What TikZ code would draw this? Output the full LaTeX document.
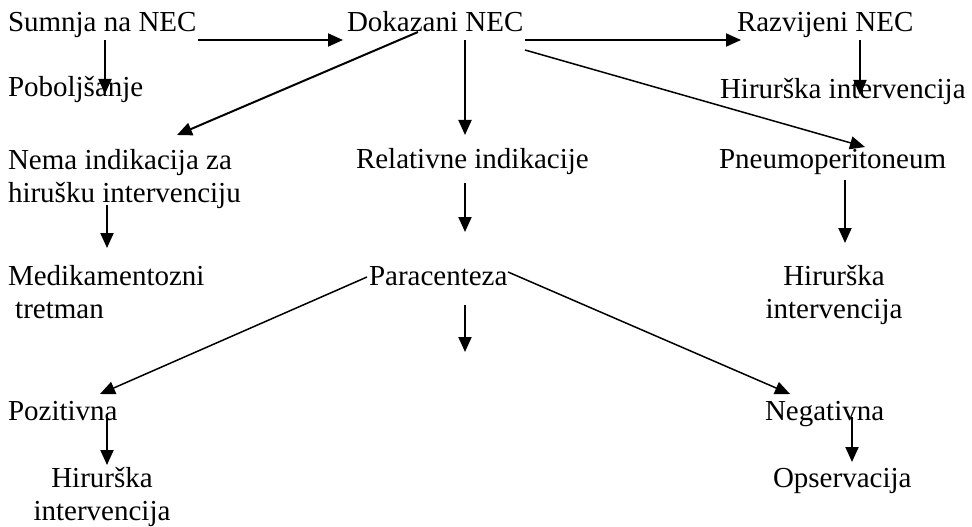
\documentclass[tikz,border=0pt]{standalone}
\usepackage{fontspec}
\setmainfont{Liberation Serif}
\usepackage{xcolor}
\definecolor{cText}{HTML}{000000}
\usetikzlibrary{positioning,arrows.meta,calc}
\tikzset{
  node-text/.style={inner sep=0pt,outer sep=0pt,text=cText,
    font=\fontsize{11.6}{13.4}\selectfont},
  arrow/.style={-{Triangle[length=6pt,width=5.2pt]},line width=0.8pt,draw=cText},
  arrow-thin/.style={arrow,line width=0.6pt},
}

\begin{document}
\begin{tikzpicture}[x=0.4pt,y=-0.4pt]
  \useasboundingbox (0,0) rectangle (972,526);
  % gornji red
  \node[node-text,anchor=base west] (sumnja) at (8,32) {Sumnja na NEC};
  \node[node-text,anchor=base west] (dokazani) at (347,32) {Dokazani NEC};
  \node[node-text,anchor=base west] (razvijeni) at (737,32) {Razvijeni NEC};
  \node[node-text,anchor=base west] (poboljsanje) at (8,97) {Poboljšanje};
  \node[node-text,anchor=base west] (hirurska-a) at (720,99) {Hirurška intervencija};
  % srednji red
  \node[node-text,anchor=north west,align=left] (nema) at (8,149)
    {Nema indikacija za\\hirušku intervenciju};
  \node[node-text,anchor=base west] (relativne) at (356,168) {Relativne indikacije};
  \node[node-text,anchor=base west] (pneumo) at (719,168) {Pneumoperitoneum};
  \node[node-text,anchor=north west,align=left] (medik) at (8,265)
    {Medikamentozni\\\hspace*{0.25em}tretman};
  \node[node-text,anchor=base west] (paracenteza) at (369,285) {Paracenteza};
  \node[node-text,anchor=north,align=center] (hirurska-b) at (834,265)
    {Hirurška\\intervencija};
  % donji red
  \node[node-text,anchor=base west] (pozitivna) at (8,420) {Pozitivna};
  \node[node-text,anchor=base west] (negativna) at (765,420) {Negativna};
  \node[node-text,anchor=north,align=center] (hirurska-c) at (102,467)
    {Hirurška\\intervencija};
  \node[node-text,anchor=base west] (opservacija) at (773,487) {Opservacija};
  \coordinate (rel-end) at (465,232);
  \coordinate (para-end) at (465,352);

  \draw[arrow] ($(sumnja.base east)+(2,8)$) -- ($(dokazani.base west)+(-4,8)$);
  \draw[arrow] ($(dokazani.base east)+(2,8)$) -- ($(razvijeni.base west)+(4,8)$);
  \draw[arrow] ($(sumnja.base west)+(97,8)$) -- ($(poboljsanje.base west)+(97,-3)$);
  \draw[arrow] ($(dokazani.base west)+(71,0)$) -- ($(nema.north west)+(169,-14)$);
  \draw[arrow] ($(dokazani.base west)+(118,8)$) -- ($(relativne.base west)+(109,-33)$);
  \draw[arrow-thin] ($(dokazani.base west)+(178,18)$) -- ($(pneumo.base west)+(146,-21)$);
  \draw[arrow] ($(razvijeni.base west)+(123,8)$) -- ($(hirurska-a.base west)+(140,-4)$);
  \draw[arrow] ($(nema.north west)+(99,56)$) -- ($(medik.north west)+(99,-17)$);
  \draw[arrow] ($(relativne.base west)+(109,15)$) -- (rel-end);
  \draw[arrow] ($(pneumo.base west)+(126,12)$) -- ($(hirurska-b.north)+(11,-22)$);
  \draw[arrow] ($(paracenteza.base west)+(96,20)$) -- (para-end);
  \draw[arrow-thin] ($(paracenteza.base west)+(-2,-8)$) -- ($(pozitivna.base west)+(92,-26)$);
  \draw[arrow-thin] ($(paracenteza.base west)+(139,-13)$) -- ($(negativna.base west)+(25,-26)$);
  \draw[arrow] ($(pozitivna.base west)+(99,-3)$) -- ($(hirurska-c.north)+(5,-2)$);
  \draw[arrow] ($(negativna.base west)+(87,-3)$) -- ($(opservacija.base west)+(79,-25)$);
\end{tikzpicture}
\end{document}
